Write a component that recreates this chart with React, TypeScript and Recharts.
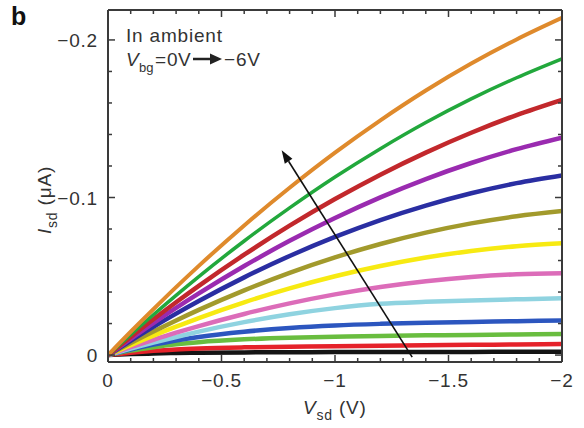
import React from 'react';
import { LineChart, Line, XAxis, YAxis, ReferenceLine } from 'recharts';

// Vsd sweep (V) and Isd (uA) for each Vbg step, 0V (bottom) -> -6V (top)
const vsd = [0, -0.1, -0.2, -0.3, -0.4, -0.6, -0.8, -1.0, -1.2, -1.4, -1.6, -1.8, -2.0];

const iBlack = [0, -0.0006, -0.001, -0.0013, -0.0015, -0.0017, -0.0018, -0.0019, -0.0019, -0.002, -0.002, -0.0021, -0.0021];
const iRedLow = [0, -0.0015, -0.0027, -0.0036, -0.0042, -0.0049, -0.0053, -0.0056, -0.0059, -0.0062, -0.0065, -0.0067, -0.007];
const iGreenLow = [0, -0.0028, -0.005, -0.0068, -0.0082, -0.01, -0.011, -0.0116, -0.0121, -0.0125, -0.0128, -0.0131, -0.0133];
const iBlue = [0, -0.0035, -0.0066, -0.0093, -0.0115, -0.0148, -0.0172, -0.0188, -0.0198, -0.0205, -0.021, -0.0215, -0.022];
const iCyan = [0, -0.0041, -0.0079, -0.0115, -0.0149, -0.0209, -0.0259, -0.0298, -0.0325, -0.0338, -0.0347, -0.0354, -0.036];
const iPink = [0, -0.005, -0.0097, -0.0142, -0.0184, -0.0261, -0.0328, -0.0385, -0.0432, -0.0469, -0.0496, -0.0513, -0.052];
const iYellow = [0, -0.0063, -0.0123, -0.018, -0.0235, -0.0335, -0.0423, -0.05, -0.0565, -0.0619, -0.0661, -0.0691, -0.071];
const iOlive = [0, -0.0077, -0.015, -0.022, -0.0287, -0.0411, -0.0522, -0.062, -0.0705, -0.0777, -0.0836, -0.0881, -0.0914];
const iNavy = [0, -0.0091, -0.0179, -0.0263, -0.0343, -0.0493, -0.0629, -0.075, -0.0857, -0.0949, -0.1027, -0.1091, -0.114];
const iPurple = [0, -0.0103, -0.0203, -0.0299, -0.0391, -0.0565, -0.0725, -0.087, -0.1001, -0.1117, -0.1219, -0.1307, -0.138];
const iRed = [0, -0.0115, -0.0227, -0.0335, -0.0439, -0.0637, -0.0821, -0.099, -0.1145, -0.1285, -0.1411, -0.1523, -0.162];
const iGreen = [0, -0.013, -0.0256, -0.0379, -0.0498, -0.0724, -0.0934, -0.113, -0.131, -0.1476, -0.1626, -0.176, -0.188];
const iOrange = [0, -0.0148, -0.0291, -0.0431, -0.0566, -0.0823, -0.1062, -0.1285, -0.149, -0.1679, -0.185, -0.2003, -0.214];

const xTicks = [0, -0.1, -0.2, -0.3, -0.4, -0.5, -0.6, -0.7, -0.8, -0.9, -1, -1.1, -1.2, -1.3, -1.4, -1.5, -1.6, -1.7, -1.8, -1.9, -2];
const yTicks = [0, -0.02, -0.04, -0.06, -0.08, -0.1, -0.12, -0.14, -0.16, -0.18, -0.2];

// arrow drawn over the curves (tail near the axis, head in the upper left)
const arrowFrom = { x: -1.34, y: 0.0013 };
const arrowTo = { x: -0.765, y: -0.13 };

const series = [
  { key: 'black', values: iBlack, color: '#141414', width: 4.5 },
  { key: 'redLow', values: iRedLow, color: '#e5222a', width: 4.5 },
  { key: 'greenLow', values: iGreenLow, color: '#69bd3f', width: 4.5 },
  { key: 'blue', values: iBlue, color: '#2c56bf', width: 4.5 },
  { key: 'cyan', values: iCyan, color: '#8fd3e0', width: 4.5 },
  { key: 'pink', values: iPink, color: '#dc6cb9', width: 4.5 },
  { key: 'yellow', values: iYellow, color: '#f7ea12', width: 4.5 },
  { key: 'olive', values: iOlive, color: '#a29a2c', width: 4.5 },
  { key: 'navy', values: iNavy, color: '#2a2ea2', width: 4.5 },
  { key: 'purple', values: iPurple, color: '#9a2bb0', width: 4.5 },
  { key: 'red', values: iRed, color: '#c2282c', width: 4.5 },
  { key: 'green', values: iGreen, color: '#22a83c', width: 3.5 },
  { key: 'orange', values: iOrange, color: '#df8a2c', width: 4 },
];

const data = vsd.map((v, i) => {
  const row: any = { vsd: v };
  series.forEach((s) => {
    row[s.key] = s.values[i];
  });
  return row;
});

const FRAME = '#3a3a3a';
const FONT = '"Liberation Sans", Arial, Helvetica, sans-serif';

const isMajorX = (v: number) => Math.abs(v * 2 - Math.round(v * 2)) < 1e-6;
const isMajorY = (v: number) => Math.abs(v * 10 - Math.round(v * 10)) < 1e-6;
const fmt = (v: number) => (Math.abs(v) < 1e-9 ? '0' : '\u2212' + String(Math.abs(v)));

const BottomTick = (props: any) => {
  const { x, y, payload } = props;
  const major = isMajorX(payload.value);
  return (
    <g>
      <line x1={x} y1={y} x2={x} y2={y - (major ? 7 : 4)} stroke={FRAME} strokeWidth={1.5} />
      {major && (
        <text x={x} y={y + 25} textAnchor="middle" fontSize={19} fontFamily={FONT} fill="#333" letterSpacing={0.8}>
          {fmt(payload.value)}
        </text>
      )}
    </g>
  );
};

const TopTick = (props: any) => {
  const { x, y, payload } = props;
  const major = isMajorX(payload.value);
  return <line x1={x} y1={y} x2={x} y2={y + (major ? 7 : 4)} stroke={FRAME} strokeWidth={1.5} />;
};

const LeftTick = (props: any) => {
  const { x, y, payload } = props;
  const major = isMajorY(payload.value);
  return (
    <g>
      <line x1={x} y1={y} x2={x + (major ? 7 : 4)} y2={y} stroke={FRAME} strokeWidth={1.5} />
      {major && (
        <text x={x - 10} y={y + 7} textAnchor="end" fontSize={19} fontFamily={FONT} fill="#333" letterSpacing={0.8}>
          {fmt(payload.value)}
        </text>
      )}
    </g>
  );
};

const RightTick = (props: any) => {
  const { x, y, payload } = props;
  const major = isMajorY(payload.value);
  return <line x1={x} y1={y} x2={x - (major ? 7 : 4)} y2={y} stroke={FRAME} strokeWidth={1.5} />;
};

const ArrowShape = (props: any) => {
  const { x1, y1, x2, y2 } = props;
  const dx = x2 - x1;
  const dy = y2 - y1;
  const len = Math.sqrt(dx * dx + dy * dy) || 1;
  const ux = dx / len;
  const uy = dy / len;
  const hl = 13;
  const hw = 4.5;
  const bx = x2 - ux * hl;
  const by = y2 - uy * hl;
  const pts = `${x2},${y2} ${bx - uy * hw},${by + ux * hw} ${bx + uy * hw},${by - ux * hw}`;
  return (
    <g>
      <line x1={x1} y1={y1} x2={bx} y2={by} stroke="#111" strokeWidth={1.6} />
      <polygon points={pts} fill="#111" />
    </g>
  );
};

const App = () => {
  return (
    <div style={{ position: 'absolute', left: 0, top: 0, width: 584, height: 428, background: '#fff' }}>
      <LineChart width={584} height={428} data={data} margin={{ top: 8, right: 20, bottom: 0, left: 0 }}>
        <XAxis
          dataKey="vsd"
          type="number"
          domain={[-2, 0]}
          reversed
          allowDataOverflow
          ticks={xTicks}
          interval={0}
          height={66}
          tickSize={0}
          tickMargin={0}
          tickLine={false}
          axisLine={{ stroke: FRAME, strokeWidth: 2 }}
          tick={<BottomTick />}
        />
        <XAxis
          xAxisId="top"
          orientation="top"
          dataKey="vsd"
          type="number"
          domain={[-2, 0]}
          reversed
          allowDataOverflow
          ticks={xTicks}
          interval={0}
          height={2}
          tickSize={0}
          tickMargin={0}
          tickLine={false}
          axisLine={{ stroke: FRAME, strokeWidth: 2 }}
          tick={<TopTick />}
        />
        <YAxis
          type="number"
          domain={[-0.219, 0.0044]}
          reversed
          allowDataOverflow
          ticks={yTicks}
          interval={0}
          width={108}
          tickSize={0}
          tickMargin={0}
          tickLine={false}
          axisLine={{ stroke: FRAME, strokeWidth: 2 }}
          tick={<LeftTick />}
        />
        <YAxis
          yAxisId="right"
          orientation="right"
          type="number"
          domain={[-0.219, 0.0044]}
          reversed
          allowDataOverflow
          ticks={yTicks}
          interval={0}
          width={2}
          tickSize={0}
          tickMargin={0}
          tickLine={false}
          axisLine={{ stroke: FRAME, strokeWidth: 2 }}
          tick={<RightTick />}
        />
        {series.map((s) => (
          <Line
            key={s.key}
            dataKey={s.key}
            type="monotone"
            stroke={s.color}
            strokeWidth={s.width}
            dot={false}
            isAnimationActive={false}
          />
        ))}
        <ReferenceLine segment={[arrowFrom, arrowTo]} ifOverflow="visible" shape={<ArrowShape />} />
      </LineChart>
      <svg
        width={584}
        height={428}
        style={{ position: 'absolute', left: 0, top: 0, pointerEvents: 'none' }}
        fontFamily={FONT}
        fill="#333"
      >
        <text x={11} y={25} fontSize={25} fontWeight="bold" fill="#111">b</text>
        <text x={126} y={42} fontSize={19} letterSpacing={0.8}>In ambient</text>
        <text x={126} y={66} fontSize={19}>
          <tspan fontStyle="italic">V</tspan>
        </text>
        <text x={139} y={72} fontSize={13}>bg</text>
        <text x={155} y={66} fontSize={19}>=</text>
        <text x={167} y={66} fontSize={19} letterSpacing={0.5}>0V</text>
        <line x1={193} y1={59} x2={212} y2={59} stroke="#222" strokeWidth={2.5} />
        <polygon points="222,59 210,53.5 210,64.5" fill="#222" />
        <text x={224} y={66} fontSize={19} letterSpacing={0.8}>{'\u2212'}6V</text>
        <g transform="rotate(-90 51 200)">
          <text x={51} y={200} fontSize={19} textAnchor="middle" letterSpacing={0.8}>
            <tspan fontStyle="italic">I</tspan>
            <tspan fontSize={14} dy={6}>sd</tspan>
            <tspan dy={-6}> ({'\u03bc'}A)</tspan>
          </text>
        </g>
        <text x={303} y={414} fontSize={19} letterSpacing={0.8}>
          <tspan fontStyle="italic">V</tspan>
          <tspan fontSize={14} dy={6}>sd</tspan>
          <tspan dy={-6}> (V)</tspan>
        </text>
      </svg>
    </div>
  );
};

export default App;
